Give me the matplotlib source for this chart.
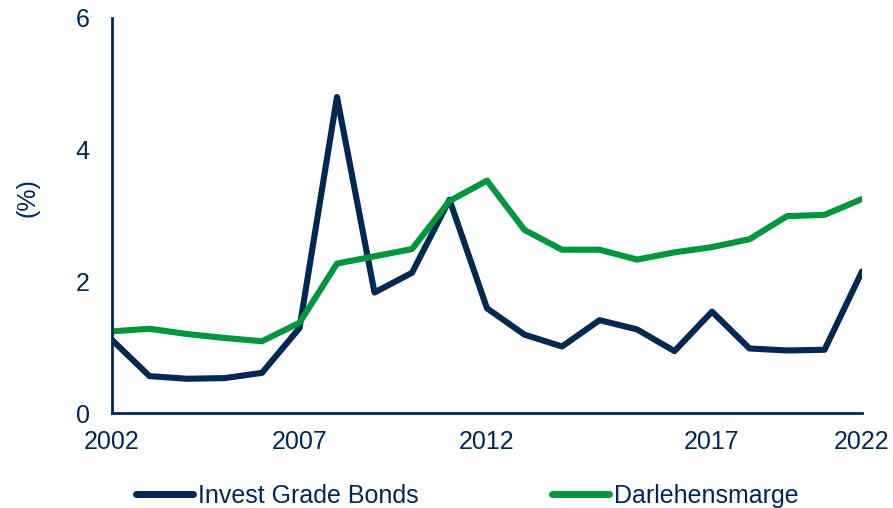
import matplotlib.pyplot as plt

plt.rcParams['font.family'] = ['Liberation Sans', 'DejaVu Sans']

# Daten
years = list(range(2002, 2023))
invest_grade = [1.11, 0.56, 0.52, 0.53, 0.61, 1.29, 4.80, 1.83, 2.13, 3.24, 1.59,
                1.19, 1.01, 1.41, 1.27, 0.94, 1.54, 0.98, 0.95, 0.96, 2.15]
darlehen = [1.24, 1.28, 1.20, 1.14, 1.09, 1.37, 2.27, 2.38, 2.49, 3.22, 3.53,
            2.78, 2.48, 2.48, 2.33, 2.44, 2.52, 2.64, 2.99, 3.01, 3.25]
tick_pos = [2002, 2007, 2012, 2018, 2022]
tick_labels = ['2002', '2007', '2012', '2017', '2022']

navy = '#002855'
green = '#00963a'
fs = 18

fig = plt.figure(figsize=(8.93, 5.08), dpi=100)
ax = fig.add_axes([0.1254, 0.187, 0.8399, 0.7776])

ax.plot(years, invest_grade, color=navy, lw=4.4, label='Invest Grade Bonds',
        solid_joinstyle='round', solid_capstyle='round')
ax.plot(years, darlehen, color=green, lw=4.4, label='Darlehensmarge',
        solid_joinstyle='round', solid_capstyle='round')

ax.set_xlim(2002, 2022)
ax.set_ylim(0, 6)
ax.set_yticks([0, 2, 4, 6])
ax.set_xticks(tick_pos)
ax.set_xticklabels(tick_labels)
ax.tick_params(axis='both', length=0, labelsize=fs, colors=navy)
ax.tick_params(axis='y', pad=16)
ax.tick_params(axis='x', pad=12)

for s in ['top', 'right']:
    ax.spines[s].set_visible(False)
for s in ['left', 'bottom']:
    ax.spines[s].set_color(navy)
    ax.spines[s].set_linewidth(2)

ax.set_ylabel('(%)', fontsize=fs, color=navy)
ax.yaxis.set_label_coords(-0.097, 0.545)

leg = ax.legend(loc='center left', bbox_to_anchor=(0.032, -0.21), ncol=2,
                frameon=False, fontsize=fs, handlelength=2.3, handletextpad=0.2,
                columnspacing=5.3, borderaxespad=0, borderpad=0)
for t in leg.get_texts():
    t.set_color(navy)
for h in leg.get_lines():
    h.set_linewidth(5)

fig.savefig('out.png', dpi=100)
